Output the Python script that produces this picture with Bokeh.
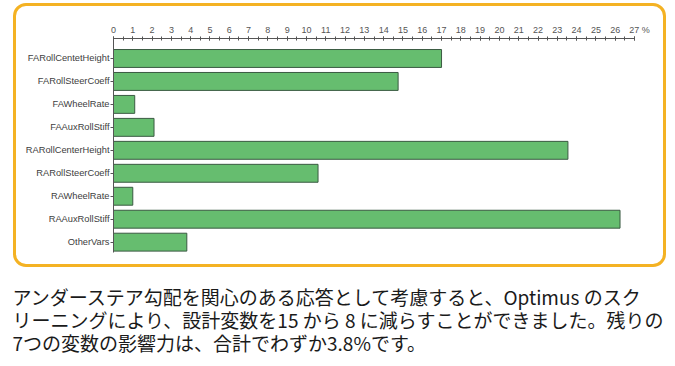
from bokeh.plotting import figure
from bokeh.models import (ColumnDataSource, Range1d, FixedTicker, Title,
                          SingleIntervalTicker, InlineStyleSheet)
from bokeh.embed import file_html
from bokeh.resources import INLINE

# ---- data ----
categories = ["FARollCentetHeight", "FARollSteerCoeff", "FAWheelRate",
              "FAAuxRollStiff", "RARollCenterHeight", "RARollSteerCoeff",
              "RAWheelRate", "RAAuxRollStiff", "OtherVars"]
values = [17.0, 14.75, 1.1, 2.1, 23.55, 10.6, 1.0, 26.25, 3.8]
x_max = 27
x_unit = "%"
caption_lines = [
    "アンダーステア勾配を関心のある応答として考慮すると、Optimus のスク",
    "リーニングにより、設計変数を15 から 8 に減らすことができました。残りの",
    "7つの変数の影響力は、合計でわずか3.8%です。",
]

W, H = 675, 366
positions = list(range(len(categories)))
source = ColumnDataSource(dict(y=positions, value=values, name=categories))

frame_css = InlineStyleSheet(css="""
:host::after {
  content: "";
  position: absolute;
  left: 13px; top: 3px; width: 653px; height: 264px;
  border: 3px solid #F4B223;
  border-radius: 13px;
  box-sizing: border-box;
  pointer-events: none;
}
""")

p = figure(width=W, height=H, output_backend="svg", toolbar_location=None,
           x_range=Range1d(0, x_max), y_range=Range1d(8.45, -0.87),
           x_axis_location="above", tools="",
           min_border_left=113, min_border_right=41,
           min_border_top=38, min_border_bottom=114,
           stylesheets=[frame_css])
p.outline_line_color = None
p.xgrid.visible = False
p.ygrid.visible = False

p.hbar(y="y", left=0, right="value", height=0.78, source=source,
       fill_color="#66BD6F", line_color="#3A5A42", line_width=1)

xa = p.xaxis[0]
xa.ticker = SingleIntervalTicker(interval=1, num_minor_ticks=2)
xa.major_label_overrides = {x_max: "\u00a0\u00a0\u00a0\u00a0%d %s" % (x_max, x_unit)}
xa.axis_line_color = "#555555"
xa.major_tick_line_color = "#555555"
xa.minor_tick_line_color = "#555555"
xa.major_tick_in = 2
xa.major_tick_out = 2
xa.minor_tick_in = 2
xa.minor_tick_out = 2
xa.major_label_text_font = "Liberation Sans"
xa.major_label_text_font_size = "9px"
xa.major_label_text_color = "#555555"
xa.major_label_standoff = 2

ya = p.yaxis[0]
ya.ticker = FixedTicker(ticks=positions)
ya.major_label_overrides = {i: c for i, c in zip(positions, categories)}
ya.minor_tick_line_color = None
ya.axis_line_color = "#555555"
ya.major_tick_line_color = "#555555"
ya.major_tick_in = 0
ya.major_tick_out = 3
ya.major_label_text_font = "Liberation Sans"
ya.major_label_text_font_size = "9.3px"
ya.major_label_text_color = "#404040"
ya.major_label_standoff = 1

# spacer between chart and caption
p.add_layout(Title(text="\u00a0", text_font="Noto Sans CJK JP",
                   text_font_size="19px", standoff=2), "below")
for line in caption_lines:
    p.add_layout(Title(text=line, text_font="Noto Sans CJK JP",
                       text_font_size="19px", text_color="#1a1a1a",
                       text_font_style="normal", align="left",
                       offset=-101, standoff=-6), "below")

open("out.html", "w").write(file_html(p, INLINE))
